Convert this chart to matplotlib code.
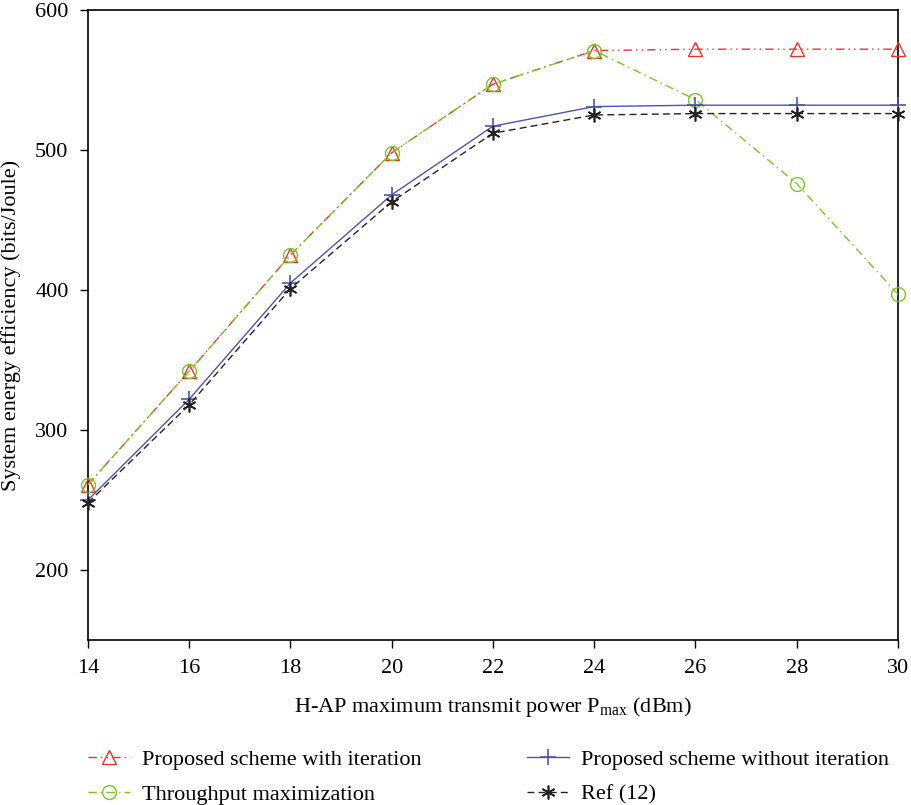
import matplotlib.pyplot as plt
import numpy as np

plt.rcParams['font.family'] = ['Liberation Serif', 'DejaVu Serif']
plt.rcParams['mathtext.fontset'] = 'custom'
plt.rcParams['mathtext.rm'] = 'Liberation Serif'

power = [14, 16, 18, 20, 22, 24, 26, 28, 30]
with_iter = [261, 342, 425, 498, 547, 571, 572, 572, 572]
throughput = [261, 342, 425, 498, 547, 571, 536, 476, 397]
without_iter = [250, 322, 405, 468, 517, 531, 532, 532, 532]
ref12 = [248, 318, 401, 463, 512, 525, 526, 526, 526]

fig = plt.figure(figsize=(9.11, 8.05), dpi=100)
ax = fig.add_axes([0.0966, 0.205, 0.889, 0.7826])

ax.plot(power, with_iter, color='#e8352b', linestyle=(0, (6, 3, 1, 3, 1, 3)), lw=1.0,
        marker='^', markersize=10, markerfacecolor='none', markeredgecolor='#e8352b',
        clip_on=False, zorder=3, label='Proposed scheme with iteration')
ax.plot(power, throughput, color='#7cc41f', linestyle=(0, (6, 3, 1, 3)), lw=1.0,
        marker='o', markersize=10, markerfacecolor='none', markeredgecolor='#7cc41f',
        clip_on=False, zorder=3, label='Throughput maximization')
ax.plot(power, without_iter, color='#4a55b0', linestyle='-', lw=1.0,
        marker='+', markersize=11, markeredgewidth=1.2,
        clip_on=False, zorder=3, label='Proposed scheme without iteration')
ax.plot(power, ref12, color='#222222', linestyle=(0, (5, 3)), lw=1.0,
        marker=(6, 2, 0), markersize=10, markeredgewidth=1.2,
        clip_on=False, zorder=3, label='Ref (12)')

ax.set_xlim(14, 30)
ax.set_ylim(150, 600)
ax.set_xticks(np.arange(14, 31, 2))
ax.set_yticks([200, 300, 400, 500, 600])
ax.tick_params(direction='out', length=6, width=1.0, labelsize=16, pad=8)
for s in ax.spines.values():
    s.set_linewidth(1.2)

ax.set_xlabel(r'H-AP maximum transmit power P$_{\mathrm{max}}$ (dBm)', fontsize=16, labelpad=12)
ax.set_ylabel('System energy efficiency (bits/Joule)', fontsize=16, labelpad=10)

ax.legend(loc='upper left', bbox_to_anchor=(0.0, -0.173), ncol=2, frameon=False,
          fontsize=16, handlelength=1.9, handletextpad=0.55, columnspacing=4.7,
          labelspacing=0.65, borderaxespad=0, borderpad=0)

fig.savefig('out.png', dpi=100)
